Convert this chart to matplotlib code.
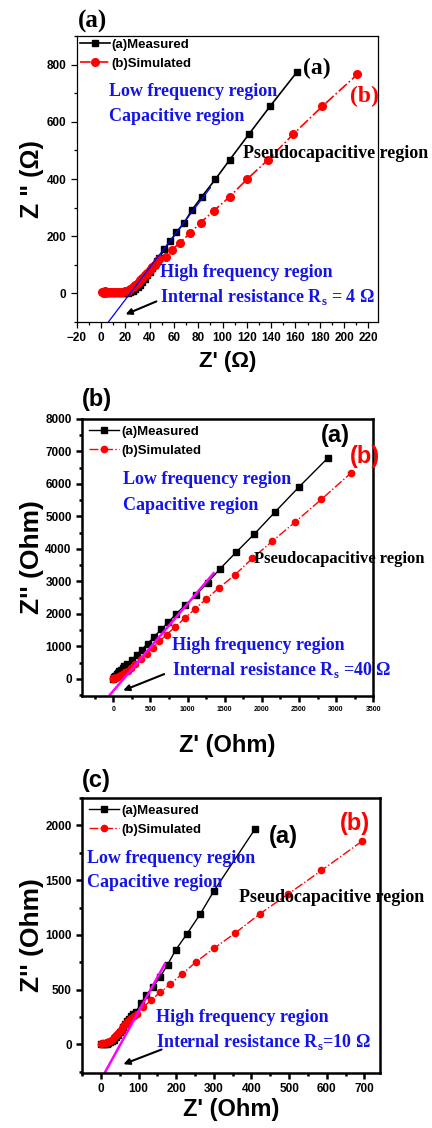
import numpy as np
import matplotlib.pyplot as plt
from matplotlib.ticker import MultipleLocator

SANS = 'Liberation Sans'
SERIF = 'Liberation Serif'
BLUE = '#1414e6'

# ---- panel (a) data, Z' and Z'' in Ohm ----
a_meas_x = [2, 3, 4, 6, 8, 10, 12, 14, 16, 18, 20, 22, 24, 26, 28, 30, 32, 34, 36, 38, 40,
            42, 44, 46, 48, 52, 57, 62, 68, 75, 83, 94, 106, 121.5, 139, 161]
a_meas_y = [2, 1, 0, 0, 0, 0, 0, 1, 1, 1, 2, 3, 5, 9, 15, 22, 30, 40, 52, 64, 76,
            88, 100, 112, 125, 155, 182, 214, 245, 293, 339, 399, 468, 556, 654, 773]
a_sim_x = [1, 2, 3, 4, 5, 6, 8, 10, 12, 14, 16, 18, 20, 22, 24, 26, 28, 30, 32, 34, 36, 38,
           40, 42, 44, 46, 48, 53, 58, 65, 73, 82, 93, 106, 120, 137.6, 158, 182, 211]
a_sim_y = [5, 3, 8, 4, 6, 5, 6, 6, 6, 6, 6, 6, 7, 10, 16, 22, 30, 38, 46, 55, 63, 72,
           82, 92, 100, 110, 120, 129, 152, 178, 210, 248, 290, 339, 399, 468, 556, 654, 766]
a_fit_x = [5.7, 90]
a_fit_y = [-101, 370]

# ---- panel (b) data ----
b_meas_x = [0, 5, 10, 20, 30, 45, 60, 80, 100, 125, 150, 189, 248, 315, 383, 464, 549, 644,
            743, 846, 968, 1112, 1270, 1441, 1652, 1900, 2184, 2499, 2895]
b_meas_y = [0, 20, 40, 70, 100, 140, 180, 230, 280, 330, 385, 464, 588, 743, 898, 1084, 1290,
            1517, 1744, 2002, 2260, 2570, 2962, 3395, 3891, 4458, 5150, 5903, 6811]
b_sim_x = [-10, 0, 10, 20, 30, 45, 60, 80, 100, 130, 160, 195, 234, 293, 369, 450, 531, 621,
           720, 833, 959, 1094, 1247, 1427, 1634, 1869, 2139, 2445, 2800, 3206]
b_sim_y = [20, 0, 10, 20, 30, 45, 60, 85, 110, 150, 195, 250, 330, 464, 609, 774, 949, 1156,
           1362, 1600, 1858, 2136, 2446, 2807, 3189, 3705, 4231, 4819, 5521, 6347]
b_fit_x = [-45, 1351]
b_fit_y = [-495, 3251]

# ---- panel (c) data ----
c_meas_x = [0, 5, 10, 15, 20, 25, 30, 35, 40, 45, 50, 55, 60, 65, 70, 75, 80, 86, 93, 106,
            121, 139, 158, 177, 199, 228.5, 264, 301, 410]
c_meas_y = [0, 2, 5, 8, 12, 18, 28, 45, 65, 85, 110, 135, 160, 185, 210, 235, 258, 280, 299,
            375, 452, 528, 620, 727, 864, 1008, 1191, 1405, 1969]
c_sim_x = [0, 3, 6, 10, 15, 20, 25, 30, 35, 40, 45, 50, 55, 60, 65, 70, 75, 80, 87, 95, 113,
           133, 158, 184, 215, 254, 301, 357, 422, 498, 586, 693]
c_sim_y = [0, 10, 15, 15, 18, 22, 30, 45, 65, 85, 105, 125, 145, 165, 185, 205, 225, 242, 260,
           278, 339, 406, 476, 550, 641, 757, 879, 1017, 1191, 1374, 1588, 1853]
c_fit_x = [9, 170]
c_fit_y = [-266, 736]

fig = plt.figure(figsize=(4.32, 11.28), dpi=100)


def style_axes(ax, lw, tsize, xsize=None):
    for s in ax.spines.values():
        s.set_linewidth(lw)
    ax.tick_params(which='both', direction='out', width=lw)
    ax.tick_params(which='major', length=4)
    ax.tick_params(which='minor', length=2.5)
    for lab in ax.get_yticklabels():
        lab.set_fontfamily(SANS)
        lab.set_fontweight('bold')
        lab.set_fontsize(tsize)
    for lab in ax.get_xticklabels():
        lab.set_fontfamily(SANS)
        lab.set_fontweight('bold')
        lab.set_fontsize(xsize or tsize)


def serif_text(ax, x, y, s, color, size):
    ax.text(x, y, s, color=color, fontsize=size, fontfamily=SERIF, fontweight='bold',
            va='center', ha='left')


leg_kw = dict(loc='upper left', frameon=False,
              prop={'family': SANS, 'weight': 'bold', 'size': 9.5},
              handlelength=2.3, handletextpad=0.15, labelspacing=0.5, borderpad=0.2)

# ================= panel (a) =================
ax1 = fig.add_axes([0.178, 0.7145, 0.697, 0.2535])
ax1.plot(a_meas_x, a_meas_y, '-', color='black', marker='s', ms=5, lw=1.2, label='(a)Measured')
ax1.plot(a_sim_x, a_sim_y, '-.', color='red', marker='o', ms=5.5, lw=1.2, label='(b)Simulated')
ax1.plot(a_fit_x, a_fit_y, '-', color='blue', lw=0.9)
ax1.set_xlim(-20, 228)
ax1.set_ylim(-100, 900)
ax1.xaxis.set_major_locator(MultipleLocator(20))
ax1.xaxis.set_minor_locator(MultipleLocator(10))
ax1.yaxis.set_major_locator(MultipleLocator(200))
ax1.yaxis.set_minor_locator(MultipleLocator(100))
style_axes(ax1, 0.9, 8.5)
ax1.legend(borderaxespad=0.0, **leg_kw)
serif_text(ax1, 6.6, 706, 'Low frequency region', BLUE, 13)
serif_text(ax1, 6.6, 619, 'Capacitive region', BLUE, 13)
serif_text(ax1, 116.5, 490, 'Pseudocapacitive region', 'black', 13)
serif_text(ax1, 48.7, 74, 'High frequency region', BLUE, 13)
serif_text(ax1, 48.7, -12, r'Internal resistance R$_\mathregular{s}$ = 4 Ω', BLUE, 13)
serif_text(ax1, 166, 786, '(a)', 'black', 17)
serif_text(ax1, 205, 688, '(b)', 'red', 17)
ax1.annotate('', xy=(18, -77), xytext=(47.6, -24),
             arrowprops=dict(arrowstyle='-|>', color='black', lw=1.5, mutation_scale=9))
ax1.set_xlabel("Z' (Ω)", fontsize=16, fontfamily=SANS, fontweight='bold', labelpad=5)
ax1.set_ylabel('Z " (Ω)', fontsize=18, fontfamily=SANS, fontweight='bold', labelpad=2)
fig.text(0.18, 0.981, '(a)', fontsize=18, fontfamily=SERIF, fontweight='bold', va='center')

# ================= panel (b) =================
ax2 = fig.add_axes([0.190, 0.383, 0.674, 0.2456])
ax2.plot(b_meas_x, b_meas_y, '-', color='black', marker='s', ms=4.5, lw=1.0, label='(a)Measured')
ax2.plot(b_sim_x, b_sim_y, '-.', color='red', marker='o', ms=4.5, lw=1.0, label='(b)Simulated')
ax2.plot(b_fit_x, b_fit_y, '-', color='#ff00ff', lw=1.8)
ax2.set_xlim(-420, 3500)
ax2.set_ylim(-530, 8000)
ax2.xaxis.set_major_locator(MultipleLocator(500))
ax2.xaxis.set_minor_locator(MultipleLocator(250))
ax2.yaxis.set_major_locator(MultipleLocator(1000))
ax2.yaxis.set_minor_locator(MultipleLocator(500))
style_axes(ax2, 1.8, 8.5, 5)
ax2.legend(borderaxespad=0.3, **leg_kw)
serif_text(ax2, 130, 6150, 'Low frequency region', BLUE, 13)
serif_text(ax2, 130, 5335, 'Capacitive region', BLUE, 13)
serif_text(ax2, 1890, 3684, 'Pseudocapacitive region', 'black', 12)
serif_text(ax2, 788, 1032, 'High frequency region', BLUE, 13)
serif_text(ax2, 788, 279, r'Internal resistance R$_\mathregular{s}$ =40 Ω', BLUE, 13)
ax2.text(2790, 7500, '(a)', fontsize=17, fontfamily=SANS, fontweight='bold', va='center')
ax2.text(3180, 6840, '(b)', fontsize=17, fontfamily=SANS, fontweight='bold', color='red', va='center')
ax2.annotate('', xy=(99, -392), xytext=(720, 175),
             arrowprops=dict(arrowstyle='-|>', color='black', lw=1.5, mutation_scale=9))
ax2.set_xlabel("Z' (Ohm)", fontsize=17, fontfamily=SANS, fontweight='bold', labelpad=15)
ax2.set_ylabel("Z'' (Ohm)", fontsize=19, fontfamily=SANS, fontweight='bold', labelpad=1)
fig.text(0.19, 0.646, '(b)', fontsize=17, fontfamily=SANS, fontweight='bold', va='center')

# ================= panel (c) =================
ax3 = fig.add_axes([0.190, 0.0488, 0.690, 0.2438])
ax3.plot(c_meas_x, c_meas_y, '-', color='black', marker='s', ms=4, lw=1.0, label='(a)Measured')
ax3.plot(c_sim_x, c_sim_y, '-.', color='red', marker='o', ms=4.5, lw=1.0, label='(b)Simulated')
ax3.plot(c_fit_x, c_fit_y, '-', color='#ff00ff', lw=1.8)
ax3.set_xlim(-50, 742)
ax3.set_ylim(-260, 2250)
ax3.xaxis.set_major_locator(MultipleLocator(100))
ax3.xaxis.set_minor_locator(MultipleLocator(50))
ax3.yaxis.set_major_locator(MultipleLocator(500))
ax3.yaxis.set_minor_locator(MultipleLocator(250))
style_axes(ax3, 1.8, 8.5)
ax3.legend(borderaxespad=0.3, **leg_kw)
serif_text(ax3, -38, 1698, 'Low frequency region', BLUE, 13)
serif_text(ax3, -38, 1475, 'Capacitive region', BLUE, 13)
serif_text(ax3, 366, 1337, 'Pseudocapacitive region', 'black', 13)
serif_text(ax3, 146, 244, 'High frequency region', BLUE, 13)
serif_text(ax3, 146, 24, r'Internal resistance R$_\mathregular{s}$=10 Ω', BLUE, 13)
ax3.text(445, 1900, '(a)', fontsize=17, fontfamily=SANS, fontweight='bold', va='center')
ax3.text(635, 2020, '(b)', fontsize=17, fontfamily=SANS, fontweight='bold', color='red', va='center')
ax3.annotate('', xy=(53, -189), xytext=(168, -37),
             arrowprops=dict(arrowstyle='-|>', color='black', lw=1.5, mutation_scale=9))
ax3.set_xlabel("Z' (Ohm)", fontsize=17, fontfamily=SANS, fontweight='bold', labelpad=2)
ax3.set_ylabel("Z'' (Ohm)", fontsize=19, fontfamily=SANS, fontweight='bold', labelpad=1)
fig.text(0.19, 0.3085, '(c)', fontsize=17, fontfamily=SANS, fontweight='bold', va='center')

fig.savefig('out.png', dpi=100)
